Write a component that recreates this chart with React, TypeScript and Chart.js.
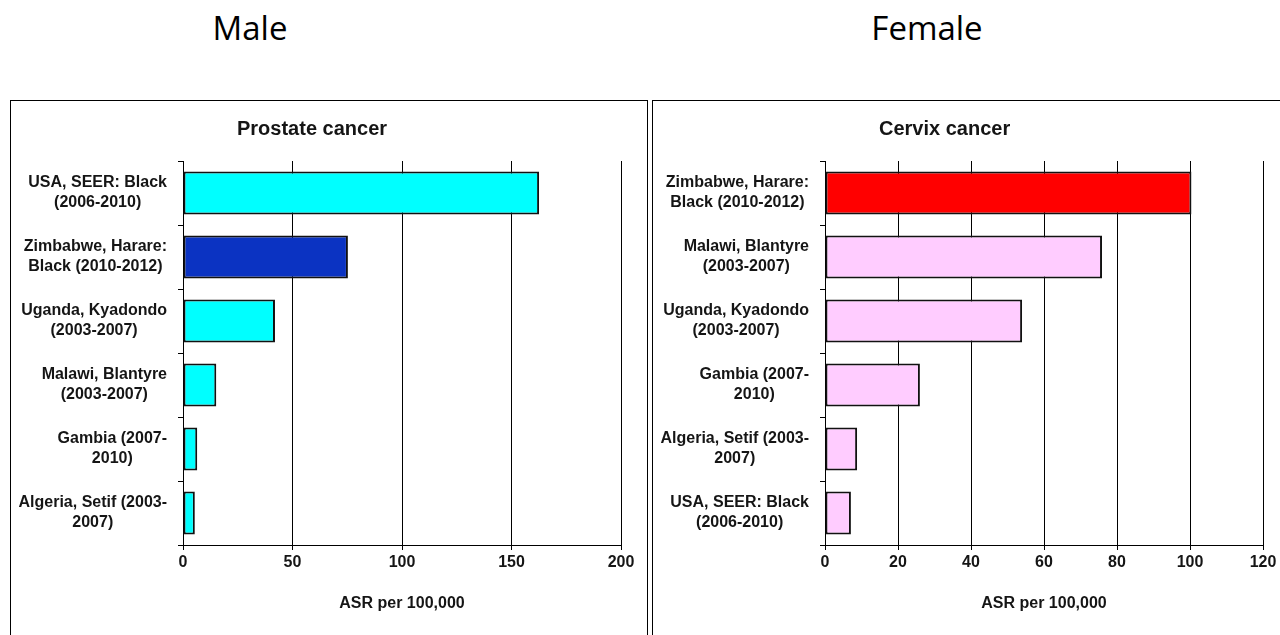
import React, { useEffect, useRef } from "react";
import { Chart, registerables } from "chart.js";

Chart.register(...registerables);

// ---------- data ----------
const maleTitle = "Prostate cancer";
const maleCategories: string[][] = [
  ["USA, SEER: Black", "(2006-2010)"],
  ["Zimbabwe, Harare:", "Black (2010-2012)"],
  ["Uganda, Kyadondo", "(2003-2007)"],
  ["Malawi, Blantyre", "(2003-2007)"],
  ["Gambia (2007-", "2010)"],
  ["Algeria, Setif (2003-", "2007)"],
];
const maleValues = [162.6, 75.3, 42.0, 15.2, 6.5, 5.4];
const maleColors = ["#00FFFF", "#0B33C2", "#00FFFF", "#00FFFF", "#00FFFF", "#00FFFF"];
const maleTickValues = [0, 50, 100, 150, 200];

const femaleTitle = "Cervix cancer";
const femaleCategories: string[][] = [
  ["Zimbabwe, Harare:", "Black (2010-2012)"],
  ["Malawi, Blantyre", "(2003-2007)"],
  ["Uganda, Kyadondo", "(2003-2007)"],
  ["Gambia (2007-", "2010)"],
  ["Algeria, Setif (2003-", "2007)"],
  ["USA, SEER: Black", "(2006-2010)"],
];
const femaleValues = [100.4, 75.9, 54.0, 26.0, 8.8, 7.1];
const femaleColors = ["#FF0000", "#FFCCFF", "#FFCCFF", "#FFCCFF", "#FFCCFF", "#FFCCFF"];
const femaleTickValues = [0, 20, 40, 60, 80, 100, 120];

const xAxisTitle = "ASR per 100,000";

// ---------- styling ----------
const FONT_FAMILY = "'Liberation Sans', Arial, sans-serif";
const TEXT = "#151515";
const LABEL_GAP = 16;
const LINE_H = 20;

const centeredLabels = {
  id: "centeredLabels",
  afterDraw(chart: any) {
    const yScale = chart.scales.y;
    const ctx = chart.ctx as CanvasRenderingContext2D;
    const labels = chart.data.labels as string[][];
    ctx.save();
    ctx.font = `bold 16px ${FONT_FAMILY}`;
    ctx.fillStyle = TEXT;
    ctx.textAlign = "center";
    ctx.textBaseline = "middle";
    labels.forEach((lines, i) => {
      const cy = yScale.getPixelForTick(i);
      const w = Math.max(...lines.map((l) => ctx.measureText(l).width));
      const cx = chart.chartArea.left - LABEL_GAP - w / 2;
      lines.forEach((line, j) => {
        ctx.fillText(line, cx, cy + (j - (lines.length - 1) / 2) * LINE_H);
      });
    });
    ctx.restore();
  },
};

type PanelProps = {
  title: string;
  labels: string[][];
  values: number[];
  colors: string[];
  tickValues: number[];
  left: number;
};

function Panel({ title, labels, values, colors, tickValues, left }: PanelProps) {
  const ref = useRef<HTMLCanvasElement>(null);
  useEffect(() => {
    const min = tickValues[0];
    const max = tickValues[tickValues.length - 1];
    const step = tickValues[1] - tickValues[0];
    const chart = new Chart(ref.current!, {
      type: "bar",
      data: {
        labels,
        datasets: [
          {
            data: values,
            backgroundColor: colors,
            borderColor: "#111",
            borderWidth: 2,
            borderSkipped: false,
            categoryPercentage: 0.67,
            barPercentage: 1,
          },
        ],
      },
      options: {
        indexAxis: "y",
        animation: false,
        responsive: false,
        maintainAspectRatio: false,
        devicePixelRatio: 1,
        layout: { padding: { top: 60, right: 26, left: 0, bottom: 0 } },
        plugins: {
          legend: { display: false },
          tooltip: { enabled: false },
          title: { display: false },
        },
        scales: {
          x: {
            type: "linear",
            min,
            max,
            ticks: {
              stepSize: step,
              color: TEXT,
              font: { family: FONT_FAMILY, size: 16, weight: "bold" },
              padding: 3,
            },
            grid: { color: "#000", lineWidth: 1, tickLength: 5, drawTicks: true },
            border: { color: "#000", width: 1 },
            title: {
              display: true,
              text: xAxisTitle,
              color: TEXT,
              font: { family: FONT_FAMILY, size: 16, weight: "bold" },
              padding: { top: 0, bottom: 22 },
            },
            afterFit: (s: any) => {
              s.height = 90;
            },
          },
          y: {
            type: "category",
            ticks: {
              color: "rgba(0,0,0,0)",
              font: { family: FONT_FAMILY, size: 16, weight: "bold" },
            },
            grid: {
              drawOnChartArea: false,
              offset: true,
              tickLength: 5,
              color: "#000",
            },
            border: { color: "#000", width: 1 },
            afterFit: (s: any) => {
              s.width = 172;
            },
          },
        },
      } as any,
      plugins: [centeredLabels],
    });
    return () => chart.destroy();
  }, []);

  return (
    <div
      style={{
        position: "absolute",
        left,
        top: 100,
        width: 636,
        height: 600,
        border: "1px solid #000",
        background: "#fff",
      }}
    >
      <canvas
        ref={ref}
        width={636}
        height={534}
        style={{ display: "block", position: "absolute", left: 0, top: 0 }}
      />
      <div
        style={{
          position: "absolute",
          left: 226,
          top: 17,
          font: `bold 20px ${FONT_FAMILY}`,
          lineHeight: "20px",
          color: TEXT,
          whiteSpace: "nowrap",
        }}
      >
        {title}
      </div>
    </div>
  );
}

export default function App() {
  const heading: React.CSSProperties = {
    position: "absolute",
    top: 8,
    width: 200,
    textAlign: "center",
    font: "33px 'Open Sans', 'Noto Sans', sans-serif",
    lineHeight: "40px",
    color: "#000",
  };
  return (
    <div
      style={{
        position: "absolute",
        left: 0,
        top: 0,
        width: 1280,
        height: 635,
        overflow: "hidden",
        background: "#fff",
      }}
    >
      <div style={{ ...heading, left: 150 }}>Male</div>
      <div style={{ ...heading, left: 827 }}>Female</div>
      <Panel
        title={maleTitle}
        labels={maleCategories}
        values={maleValues}
        colors={maleColors}
        tickValues={maleTickValues}
        left={10}
      />
      <Panel
        title={femaleTitle}
        labels={femaleCategories}
        values={femaleValues}
        colors={femaleColors}
        tickValues={femaleTickValues}
        left={652}
      />
    </div>
  );
}
